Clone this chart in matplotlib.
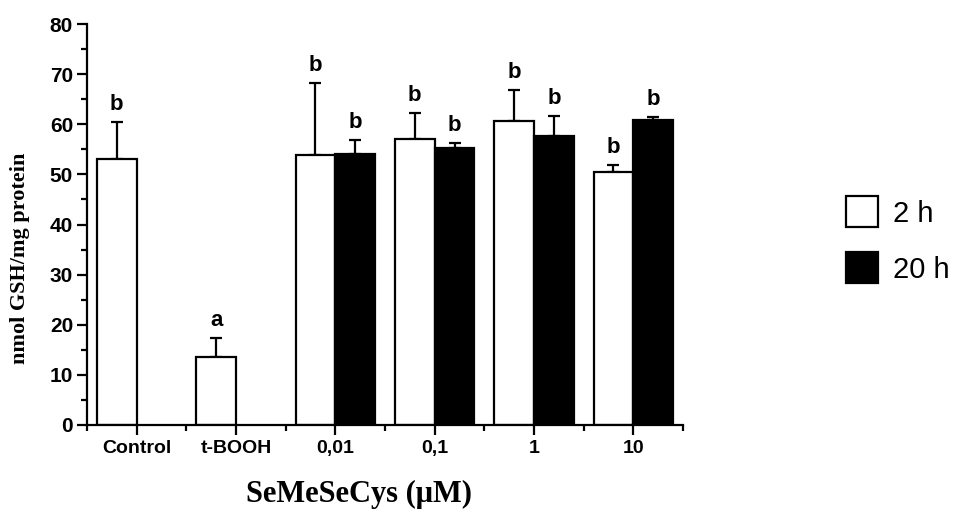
import matplotlib
matplotlib.use("Agg")
import matplotlib.pyplot as plt
from matplotlib.patches import Patch
from matplotlib.ticker import MultipleLocator, FixedLocator
import numpy as np

categories = ["Control", "t-BOOH", "0,01", "0,1", "1", "10"]
mean_2h = [53.1, 13.6, 53.8, 57.0, 60.6, 50.4]
err_2h = [7.3, 3.8, 14.4, 5.2, 6.3, 1.5]
letters_2h = ["b", "a", "b", "b", "b", "b"]
mean_20h = [np.nan, np.nan, 54.0, 55.3, 57.7, 60.9]
err_20h = [np.nan, np.nan, 2.9, 0.9, 4.0, 0.6]
letters_20h = ["", "", "b", "b", "b", "b"]
series_labels = ["2 h", "20 h"]
ylabel = "nmol GSH/mg protein"
xlabel = "SeMeSeCys (\u03bcM)"

W, H = 958, 515
fig = plt.figure(figsize=(W / 100, H / 100), dpi=100)
ax = fig.add_axes([87 / W, (H - 425) / H, (683 - 87) / W, (425 - 24) / H])

x = np.arange(len(categories))
bw = 0.4
lw = 1.6

ax.bar(x - bw / 2, mean_2h, bw, color="white", edgecolor="black", linewidth=lw, zorder=2)
ax.bar(x + bw / 2, mean_20h, bw, color="black", edgecolor="black", linewidth=lw, zorder=2)

m2 = np.array(mean_2h, dtype=float)
e2 = np.array(err_2h, dtype=float)
m20 = np.array(mean_20h, dtype=float)
e20 = np.array(err_20h, dtype=float)

ax.errorbar(x - bw / 2, m2, yerr=[np.zeros_like(e2), e2], fmt="none", ecolor="black",
            elinewidth=lw, capsize=4.5, capthick=lw, zorder=1)
ok = ~np.isnan(m20)
ax.errorbar((x + bw / 2)[ok], m20[ok], yerr=[np.zeros(ok.sum()), e20[ok]], fmt="none",
            ecolor="black", elinewidth=lw, capsize=4.5, capthick=lw, zorder=1)

for xi, m, e, t in zip(x - bw / 2, m2, e2, letters_2h):
    if t:
        ax.annotate(t, (xi, m + e), xytext=(0, 5), textcoords="offset points",
                    ha="center", va="bottom", fontsize=16, fontweight="bold",
                    family="Liberation Sans")
for xi, m, e, t in zip(x + bw / 2, m20, e20, letters_20h):
    if t:
        ax.annotate(t, (xi, m + e), xytext=(0, 5), textcoords="offset points",
                    ha="center", va="bottom", fontsize=16, fontweight="bold",
                    family="Liberation Sans")

ax.set_xlim(-0.5, len(categories) - 0.5)
ax.set_ylim(0, 80)
ax.set_xticks(x)
ax.set_xticklabels(categories, fontsize=14, fontweight="bold", family="Liberation Sans")
ax.xaxis.set_minor_locator(FixedLocator(np.arange(-0.5, len(categories), 1.0)))
ax.yaxis.set_major_locator(MultipleLocator(10))
ax.yaxis.set_minor_locator(MultipleLocator(5))
for lab in ax.get_yticklabels():
    lab.set_fontsize(15)
    lab.set_fontweight("bold")
    lab.set_family("Liberation Sans")

ax.tick_params(axis="both", which="major", direction="out", length=7, width=lw, pad=4)
ax.tick_params(axis="y", which="major", pad=3)
ax.tick_params(axis="both", which="minor", direction="out", length=4, width=lw)
for s in ["top", "right"]:
    ax.spines[s].set_visible(False)
for s in ["left", "bottom"]:
    ax.spines[s].set_linewidth(lw)

fig.text(20 / W, 1 - 258 / H, ylabel, rotation=90, ha="center", va="center",
         fontsize=16, fontweight="bold", family="Liberation Serif")
fig.text(359 / W, 1 - 494 / H, xlabel, ha="center", va="center",
         fontsize=22, fontweight="bold", family="Liberation Serif")

handles = [Patch(facecolor="white", edgecolor="black", linewidth=lw),
           Patch(facecolor="black", edgecolor="black", linewidth=lw)]
fig.legend(handles, series_labels, loc="center left", bbox_to_anchor=(846 / W, 1 - 240 / H),
           frameon=False, prop={"family": "Liberation Sans", "size": 21},
           borderaxespad=0, borderpad=0,
           handlelength=1.1, handleheight=1.25, handletextpad=0.5, labelspacing=0.85)

fig.savefig("out.png", dpi=100)
